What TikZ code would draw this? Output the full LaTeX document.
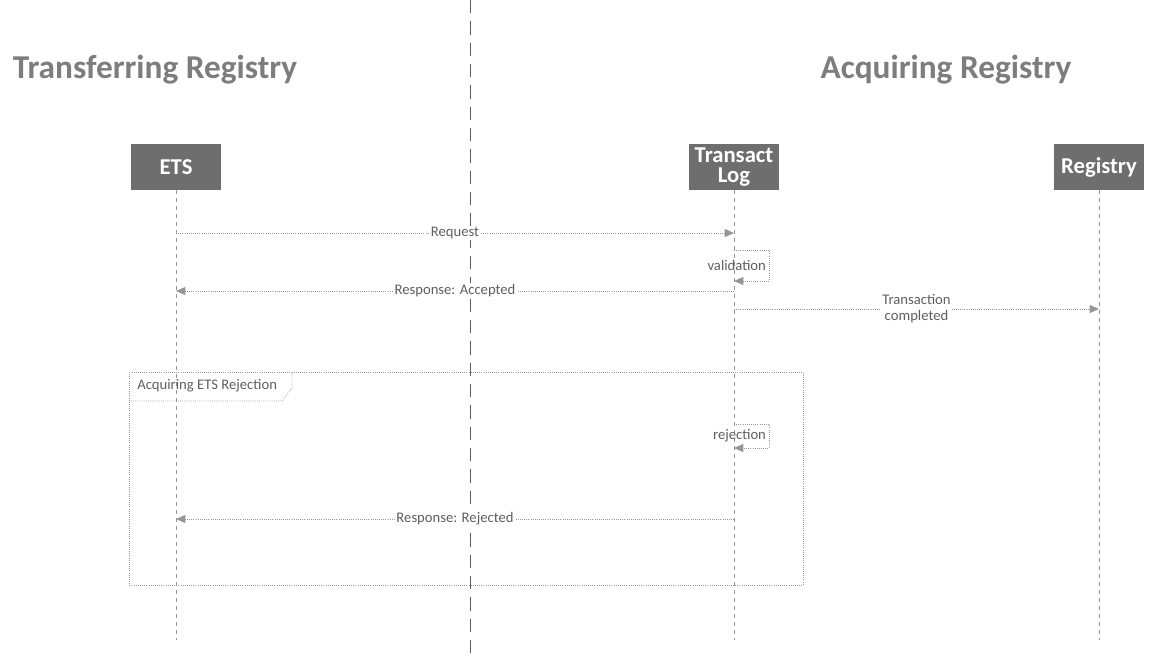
\documentclass[tikz,border=0pt]{standalone}
\usepackage{fontspec}
\setmainfont{Carlito}
\usetikzlibrary{arrows.meta}
\definecolor{headgray}{RGB}{110,110,110}
\definecolor{titlegray}{RGB}{125,125,125}
\definecolor{linegray}{RGB}{150,150,150}
\definecolor{textgray}{RGB}{95,95,95}

\tikzset{
  head/.style={fill=headgray, text=white, font=\bfseries\fontsize{17}{15.5}\selectfont, minimum width=68pt, minimum height=34pt, align=center, inner sep=0pt},
  title/.style={text=titlegray, font=\bfseries\fontsize{25}{26}\selectfont, inner sep=0pt},
  lifeline/.style={draw=linegray, dash pattern=on 3pt off 3pt, line width=0.6pt},
  msg/.style={draw=linegray, densely dotted, line width=0.6pt, -{Triangle[length=7pt,width=6pt,fill=linegray]}},
  lbl/.style={text=textgray, font=\fontsize{11}{12}\selectfont, fill=white, inner sep=1pt, align=center},
}

\begin{document}
\begin{tikzpicture}[x=0.75pt,y=0.75pt,yscale=-1,xscale=1]
        \useasboundingbox (0,0) rectangle (1150,658);
        % titles and divider
        \node[title] (ttl) at (155,70) {Transferring Registry};
        \node[title] (atl) at (946,70) {Acquiring Registry};
        \draw [draw=textgray, dash pattern=on 10pt off 6pt, line width=0.6pt] (470,0) -- (470,658);
        % participants
        \node[head] (ets) at (176,167) {ETS};
        \node[head] (log) at (734,167) {Transact\\Log};
        \node[head] (reg) at (1099,167) {Registry};
        \coordinate (etsend) at (176,640);
        \coordinate (logend) at (734,640);
        \coordinate (regend) at (1099,640);
        \draw[lifeline] (ets.south) -- (etsend);
        \draw[lifeline] (log.south) -- (logend);
        \draw[lifeline] (reg.south) -- (regend);
        % messages
        \coordinate (e1) at (176,233); \coordinate (l1) at (734,233);
        \draw[msg] (e1) -- node[lbl] {Request} (l1);
        \coordinate (l2) at (734,250); \coordinate (l3) at (734,281);
        \draw[msg] (l2) -- (769,250) -- node[lbl, left=1pt, fill=none] {validation} (769,281) -- (l3);
        \coordinate (l4) at (734,291); \coordinate (e4) at (176,291);
        \draw[msg] (l4) -- node[lbl] {Response: Accepted} (e4);
        \coordinate (l5) at (734,309); \coordinate (r5) at (1099,309);
        \draw[msg] (l5) -- node[lbl] {Transaction\\completed} (r5);
        % rejection fragment
        \draw[draw=linegray, densely dotted, line width=0.6pt] (129,372) rectangle (803,585);
        \draw[draw=linegray, densely dotted, line width=0.6pt] (129,401) -- (282,401) -- (292,388) -- (292,372);
        \node[text=textgray, font=\fontsize{11}{12}\selectfont, anchor=west, inner sep=0pt] (frm) at (137,386) {Acquiring ETS Rejection};
        \coordinate (l6) at (734,424); \coordinate (l7) at (734,448);
        \draw[msg] (l6) -- (769,424) -- node[lbl, left=1pt, fill=none] {rejection} (769,448) -- (l7);
        \coordinate (l8) at (734,519); \coordinate (e8) at (176,519);
        \draw[msg] (l8) -- node[lbl] {Response: Rejected} (e8);
\end{tikzpicture}
\end{document}
